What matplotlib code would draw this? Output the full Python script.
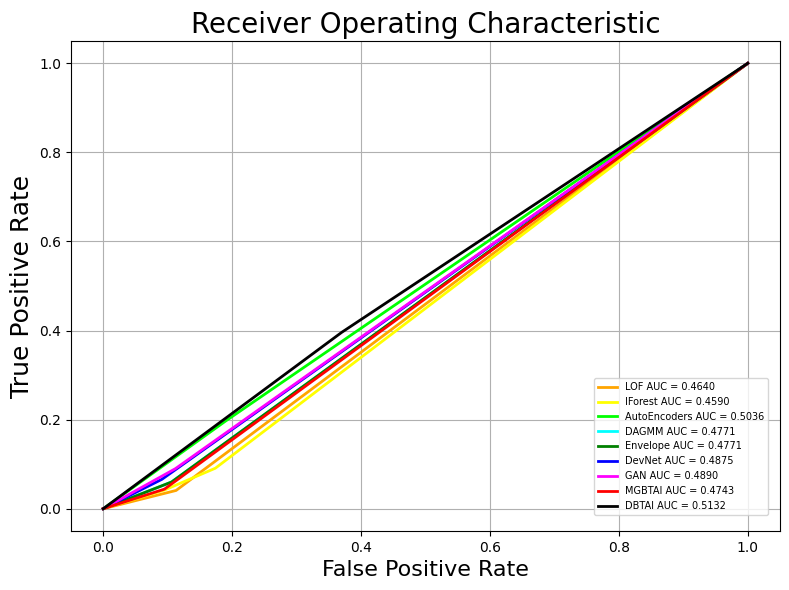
import matplotlib.pyplot as plt

# ROC points (fpr, tpr)
names = ['LOF', 'IForest', 'AutoEncoders', 'DAGMM', 'Envelope',
         'DevNet', 'GAN', 'MGBTAI', 'DBTAI']
aucs = [0.4640, 0.4590, 0.5036, 0.4771, 0.4771, 0.4875, 0.4890, 0.4743, 0.5132]
colors = ['orange', 'yellow', 'lime', 'cyan', 'green',
          'blue', 'magenta', 'red', 'black']

fpr_lof = [0, 0.113, 1]
tpr_lof = [0, 0.041, 1]
fpr_iforest = [0, 0.095, 0.174, 1]
tpr_iforest = [0, 0.042, 0.091, 1]
fpr_ae = [0, 0.19, 1]
tpr_ae = [0, 0.197, 1]
fpr_dagmm = [0, 0.106, 1]
tpr_dagmm = [0, 0.060, 1]
fpr_env = [0, 0.106, 1]
tpr_env = [0, 0.060, 1]
fpr_devnet = [0, 0.091, 1]
tpr_devnet = [0, 0.066, 1]
fpr_gan = [0, 0.112, 1]
tpr_gan = [0, 0.090, 1]
fpr_mgbtai = [0, 0.095, 1]
tpr_mgbtai = [0, 0.044, 1]
fpr_dbtai = [0, 0.37, 1]
tpr_dbtai = [0, 0.396, 1]

fprs = [fpr_lof, fpr_iforest, fpr_ae, fpr_dagmm, fpr_env,
        fpr_devnet, fpr_gan, fpr_mgbtai, fpr_dbtai]
tprs = [tpr_lof, tpr_iforest, tpr_ae, tpr_dagmm, tpr_env,
        tpr_devnet, tpr_gan, tpr_mgbtai, tpr_dbtai]

plt.figure(figsize=(7.89, 5.9), dpi=100)
for name, auc, c, f, t in zip(names, aucs, colors, fprs, tprs):
    plt.plot(f, t, color=c, lw=2, label='%s AUC = %0.4f' % (name, auc))

plt.title('Receiver Operating Characteristic', fontsize=20)
plt.xlabel('False Positive Rate', fontsize=16)
plt.ylabel('True Positive Rate', fontsize=18)
plt.grid(True)
plt.legend(loc='lower right', fontsize=7, bbox_to_anchor=(0.983, 0.033),
           borderaxespad=0)
plt.subplots_adjust(left=0.09, right=0.9886, top=0.9305, bottom=0.1)
plt.savefig('out.png')
